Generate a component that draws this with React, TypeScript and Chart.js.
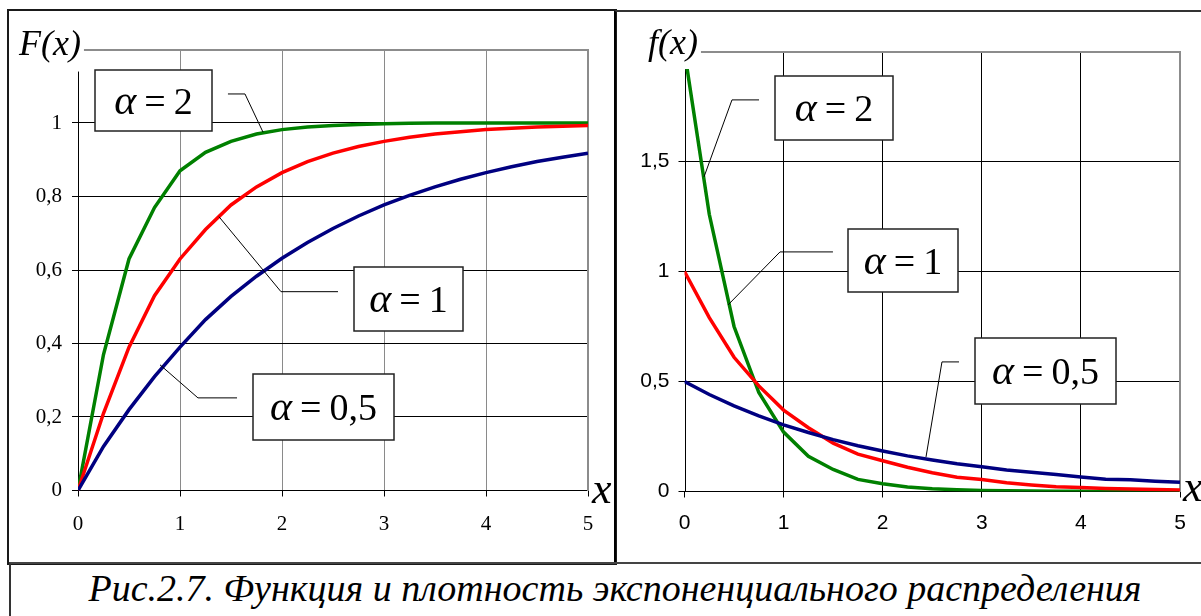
import React, { useEffect, useRef } from "react";
import { Chart, registerables } from "chart.js";

Chart.register(...registerables);

// ---------- data ----------
const X_VALUES = [0, 0.25, 0.5, 0.75, 1, 1.25, 1.5, 1.75, 2, 2.25, 2.5, 2.75, 3, 3.25, 3.5, 3.75, 4, 4.25, 4.5, 4.75, 5];

const CDF_ALPHA_05 = [0, 0.12, 0.22, 0.31, 0.39, 0.465, 0.528, 0.583, 0.632, 0.675, 0.713, 0.747, 0.777, 0.803, 0.826, 0.847, 0.865, 0.881, 0.895, 0.907, 0.918];
const CDF_ALPHA_1 = [0, 0.21, 0.39, 0.53, 0.63, 0.71, 0.777, 0.826, 0.865, 0.895, 0.918, 0.936, 0.95, 0.961, 0.97, 0.976, 0.982, 0.986, 0.989, 0.991, 0.993];
const CDF_ALPHA_2 = [0, 0.37, 0.63, 0.77, 0.87, 0.92, 0.95, 0.97, 0.982, 0.989, 0.993, 0.996, 0.998, 0.999, 1, 1, 1, 1, 1, 1, 1];

const PDF_ALPHA_05 = [0.5, 0.441, 0.389, 0.344, 0.303, 0.268, 0.236, 0.208, 0.184, 0.162, 0.143, 0.126, 0.112, 0.098, 0.087, 0.077, 0.066, 0.056, 0.053, 0.047, 0.042];
const PDF_ALPHA_1 = [1, 0.79, 0.61, 0.48, 0.37, 0.29, 0.22, 0.17, 0.14, 0.11, 0.085, 0.065, 0.055, 0.04, 0.03, 0.022, 0.018, 0.014, 0.011, 0.009, 0.007];
const PDF_ALPHA_2 = [2, 1.26, 0.75, 0.45, 0.27, 0.16, 0.1, 0.055, 0.035, 0.02, 0.012, 0.008, 0.005, 0.003, 0.002, 0.001, 0.001, 0, 0, 0, 0];

const X_TICKS = [0, 1, 2, 3, 4, 5];
const CDF_Y_TICKS = [0, 0.2, 0.4, 0.6, 0.8, 1];
const PDF_Y_TICKS = [0, 0.5, 1, 1.5];

const ALPHA_VALUES = ["0,5", "1", "2"];
const SERIES_COLORS = ["#000080", "#ff0000", "#008000"];

const CAPTION = "Рис.2.7. Функция и плотность экспоненциального распределения";

// ---------- layout / style ----------
const SERIF = "'Liberation Serif', 'Times New Roman', serif";
const SANS = "'Liberation Sans', Arial, sans-serif";

type Callout = {
  value: string;
  box: [number, number, number, number]; // data units: x1, yTop, x2, yBottom
  leader: [number, number][]; // data units
};

const CDF_CALLOUTS: Callout[] = [
  { value: ALPHA_VALUES[2], box: [0.167, 1.144, 1.314, 0.979], leader: [[1.47, 1.079], [1.637, 1.079], [1.814, 0.975]] },
  { value: ALPHA_VALUES[1], box: [2.706, 0.609, 3.775, 0.435], leader: [[1.382, 0.745], [1.99, 0.541], [2.549, 0.541]] },
  { value: ALPHA_VALUES[0], box: [1.716, 0.317, 3.098, 0.138], leader: [[0.804, 0.342], [1.176, 0.252], [1.559, 0.252]] },
];

const PDF_CALLOUTS: Callout[] = [
  { value: ALPHA_VALUES[2], box: [0.913, 1.889, 2.104, 1.598], leader: [[0.752, 1.78], [0.479, 1.78], [0.197, 1.43]] },
  { value: ALPHA_VALUES[1], box: [1.65, 1.193, 2.76, 0.907], leader: [[1.498, 1.089], [0.964, 1.089], [0.439, 0.848]] },
  { value: ALPHA_VALUES[0], box: [2.931, 0.698, 4.354, 0.398], leader: [[2.77, 0.589], [2.598, 0.589], [2.437, 0.157]] },
];

function fmt(v: number) {
  const r = Math.round(v * 10) / 10;
  return String(r).replace(".", ",");
}

function series(ys: number[]) {
  return X_VALUES.map((x, i) => ({ x, y: ys[i] }));
}

type FrameOpts = {
  yLabel: string;
  yLabelX: number; // canvas px
  yLabelBaseline: number;
  axisTop: number; // data value where the y-axis line ends
  xLabelDx: number;
  xLabelDy: number;
  callouts: Callout[];
};

function framePlugin(o: FrameOpts) {
  return {
    id: "frame",
    beforeDatasetsDraw(chart: any) {
      const ctx = chart.ctx as CanvasRenderingContext2D;
      const a = chart.chartArea;
      const ys = chart.scales.y;
      const xs = chart.scales.x;
      ctx.save();
      ctx.font = `italic 36px ${SERIF}`;
      const labelRight = o.yLabelX + ctx.measureText(o.yLabel).width + 3;
      // gray plot border: top + right
      ctx.strokeStyle = "#8c8c8c";
      ctx.lineWidth = 2;
      ctx.beginPath();
      ctx.moveTo(labelRight, Math.round(a.top));
      ctx.lineTo(Math.round(a.right), Math.round(a.top));
      ctx.lineTo(Math.round(a.right), Math.round(a.bottom));
      ctx.stroke();
      // y axis line
      const x0 = Math.round(xs.getPixelForValue(0)) + 0.5;
      ctx.strokeStyle = "#000";
      ctx.lineWidth = 1;
      ctx.beginPath();
      ctx.moveTo(x0, ys.getPixelForValue(o.axisTop));
      ctx.lineTo(x0, a.bottom);
      ctx.stroke();
      ctx.restore();
      // clip the curves at the axis top
      ctx.save();
      ctx.beginPath();
      const top = ys.getPixelForValue(o.axisTop);
      ctx.rect(a.left - 10, top, a.right - a.left + 20, a.bottom - top + 10);
      ctx.clip();
    },
    afterDatasetsDraw(chart: any) {
      chart.ctx.restore();
    },
    afterDraw(chart: any) {
      const ctx = chart.ctx as CanvasRenderingContext2D;
      const a = chart.chartArea;
      const xs = chart.scales.x;
      const ys = chart.scales.y;
      ctx.save();
      ctx.fillStyle = "#000";
      ctx.textBaseline = "alphabetic";
      ctx.textAlign = "left";
      ctx.font = `italic 36px ${SERIF}`;
      ctx.fillText(o.yLabel, o.yLabelX, o.yLabelBaseline);
      ctx.font = `italic 44px ${SERIF}`;
      ctx.fillText("x", a.right + o.xLabelDx, a.bottom + o.xLabelDy);

      for (const c of o.callouts) {
        // leader line
        ctx.strokeStyle = "#000";
        ctx.lineWidth = 1;
        ctx.beginPath();
        c.leader.forEach(([lx, ly], i) => {
          const px = xs.getPixelForValue(lx);
          const py = ys.getPixelForValue(ly);
          if (i === 0) ctx.moveTo(px, py);
          else ctx.lineTo(px, py);
        });
        ctx.stroke();
        // box
        const x1 = Math.round(xs.getPixelForValue(c.box[0]));
        const y1 = Math.round(ys.getPixelForValue(c.box[1]));
        const x2 = Math.round(xs.getPixelForValue(c.box[2]));
        const y2 = Math.round(ys.getPixelForValue(c.box[3]));
        ctx.fillStyle = "#fff";
        ctx.fillRect(x1, y1, x2 - x1, y2 - y1);
        ctx.strokeStyle = "#222";
        ctx.lineWidth = 1.5;
        ctx.strokeRect(x1, y1, x2 - x1, y2 - y1);
        // text  α = v
        const parts = [
          { t: "α", f: `italic 42px ${SERIF}` },
          { t: "=", f: `38px ${SERIF}` },
          { t: c.value, f: `38px ${SERIF}` },
        ];
        const gap = 8;
        let total = 0;
        const widths = parts.map((p) => {
          ctx.font = p.f;
          const w = ctx.measureText(p.t).width;
          total += w;
          return w;
        });
        total += gap * (parts.length - 1);
        let cx = (x1 + x2) / 2 - total / 2;
        const base = (y1 + y2) / 2 + 13;
        ctx.fillStyle = "#000";
        parts.forEach((p, i) => {
          ctx.font = p.f;
          ctx.fillText(p.t, cx, base);
          cx += widths[i] + gap;
        });
      }
      ctx.restore();
    },
  };
}

function makeConfig(opts: {
  data: number[][];
  yMax: number;
  yTicks: number[];
  tickFont: string;
  xGridColor: (v: number) => string;
  yAxisWidth: number;
  xAxisHeight: number;
  padTop: number;
  padRight: number;
  xTickPad: number;
  yTickPad: number;
  frame: FrameOpts;
}): any {
  return {
    type: "line",
    data: {
      datasets: opts.data.map((d, i) => ({
        data: series(d),
        borderColor: SERIES_COLORS[i],
        backgroundColor: SERIES_COLORS[i],
        borderWidth: 3.5,
        pointRadius: 0,
        tension: 0,
        fill: false,
      })),
    },
    options: {
      animation: false,
      responsive: false,
      maintainAspectRatio: false,
      devicePixelRatio: 1,
      layout: { padding: { top: opts.padTop, right: opts.padRight, left: 0, bottom: 0 } },
      plugins: { legend: { display: false }, tooltip: { enabled: false }, title: { display: false } },
      events: [],
      scales: {
        x: {
          type: "linear",
          min: 0,
          max: 5,
          afterBuildTicks: (s: any) => {
            s.ticks = X_TICKS.map((v) => ({ value: v }));
          },
          afterFit: (s: any) => {
            s.height = opts.xAxisHeight;
          },
          ticks: {
            color: "#000",
            font: { family: opts.tickFont, size: 21 },
            padding: opts.xTickPad,
            maxRotation: 0,
            callback: (v: number) => fmt(v),
          },
          grid: {
            color: (c: any) => opts.xGridColor(c.tick ? c.tick.value : -1),
            lineWidth: 1,
            tickColor: "#000",
            tickLength: 6,
            drawTicks: true,
          },
          border: { display: true, color: "#000", width: 1 },
        },
        y: {
          type: "linear",
          min: 0,
          max: opts.yMax,
          afterBuildTicks: (s: any) => {
            s.ticks = opts.yTicks.map((v) => ({ value: v }));
          },
          afterFit: (s: any) => {
            s.width = opts.yAxisWidth;
          },
          ticks: {
            color: "#000",
            font: { family: opts.tickFont, size: 21 },
            padding: opts.yTickPad,
            callback: (v: number) => fmt(v),
          },
          grid: {
            color: "#000",
            lineWidth: 1,
            tickColor: "#000",
            tickLength: 6,
          },
          border: { display: false },
        },
      },
    },
    plugins: [framePlugin(opts.frame)],
  };
}

export default function App() {
  const leftRef = useRef<HTMLCanvasElement>(null);
  const rightRef = useRef<HTMLCanvasElement>(null);

  useEffect(() => {
    const left = new Chart(
      leftRef.current!,
      makeConfig({
        data: [CDF_ALPHA_05, CDF_ALPHA_1, CDF_ALPHA_2],
        yMax: 1.2,
        yTicks: CDF_Y_TICKS,
        tickFont: SERIF,
        xGridColor: (v) => (v === 0 ? "rgba(0,0,0,0)" : "#8a8a8a"),
        yAxisWidth: 69,
        xAxisHeight: 71.5,
        padTop: 38.5,
        padRight: 26,
        xTickPad: 15,
        yTickPad: 10,
        frame: {
          yLabel: "F(x)",
          yLabelX: 10,
          yLabelBaseline: 44,
          axisTop: 1.14,
          xLabelDx: 4,
          xLabelDy: 12,
          callouts: CDF_CALLOUTS,
        },
      })
    );
    const right = new Chart(
      rightRef.current!,
      makeConfig({
        data: [PDF_ALPHA_05, PDF_ALPHA_1, PDF_ALPHA_2],
        yMax: 2,
        yTicks: PDF_Y_TICKS,
        tickFont: SANS,
        xGridColor: (v) => (v === 0 ? "rgba(0,0,0,0)" : v === 5 ? "#8a8a8a" : "#000"),
        yAxisWidth: 68.5,
        xAxisHeight: 70.5,
        padTop: 39.5,
        padRight: 21,
        xTickPad: 13,
        yTickPad: 9,
        frame: {
          yLabel: "f(x)",
          yLabelX: 32,
          yLabelBaseline: 42,
          axisTop: 1.92,
          xLabelDx: 3,
          xLabelDy: 9,
          callouts: PDF_CALLOUTS,
        },
      })
    );
    return () => {
      left.destroy();
      right.destroy();
    };
  }, []);

  return (
    <div
      style={{
        position: "absolute",
        left: 0,
        top: 0,
        width: 1201,
        height: 616,
        overflow: "hidden",
        background: "#fff",
      }}
    >
      {/* left chart frame */}
      <div
        style={{
          position: "absolute",
          left: 7,
          top: 9,
          width: 606,
          height: 552,
          border: "2px solid #1a1a1a",
        }}
      />
      {/* right chart frame */}
      <div
        style={{
          position: "absolute",
          left: 614,
          top: 10,
          width: 700,
          height: 551,
          borderLeft: "2px solid #000",
          borderTop: "2px solid #333",
        }}
      />
      {/* caption frame */}
      <div
        style={{
          position: "absolute",
          left: 9,
          top: 562,
          width: 1300,
          height: 200,
          borderLeft: "2px solid #333",
          borderTop: "2px solid #444",
        }}
      />
      <canvas
        ref={leftRef}
        width={605}
        height={551}
        style={{ position: "absolute", left: 9, top: 11, width: 605, height: 551 }}
      />
      <canvas
        ref={rightRef}
        width={585}
        height={550}
        style={{ position: "absolute", left: 616, top: 12, width: 585, height: 550 }}
      />
      <div
        style={{
          position: "absolute",
          left: 0,
          top: 569,
          width: 1230,
          textAlign: "center",
          fontFamily: SERIF,
          fontStyle: "italic",
          fontSize: 38,
          lineHeight: "38px",
          color: "#000",
          whiteSpace: "nowrap",
        }}
      >
        {CAPTION}
      </div>
    </div>
  );
}
